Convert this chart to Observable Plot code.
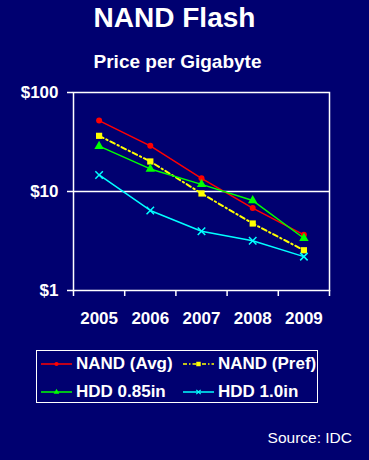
<!DOCTYPE html>
<html>
<head>
<meta charset="utf-8">
<script src="https://cdn.jsdelivr.net/npm/d3@7"></script>
<script src="https://cdn.jsdelivr.net/npm/@observablehq/plot@0.6"></script>
<style>
  html, body { margin: 0; padding: 0; }
  body { width: 369px; height: 460px; background: #000070; position: relative; overflow: hidden;
         font-family: "Liberation Sans", Arial, sans-serif; color: white; }
  .title { position: absolute; left: 0; width: 349px; top: 2px; text-align: center; font-weight: bold; font-size: 28px; }
  .subtitle { position: absolute; left: 0; width: 355px; top: 51px; text-align: center; font-weight: bold; font-size: 19px; }
  #chart { position: absolute; left: 0; top: 80px; }
  .legend { position: absolute; left: 36px; top: 350px; width: 282px; height: 53px; border: 1px solid white; box-sizing: border-box; }
  .li { position: absolute; display: flex; align-items: center; font-weight: bold; font-size: 17px; white-space: nowrap; }
  .li svg { margin-right: 3px; }
  .source { position: absolute; right: 17px; top: 429px; font-size: 15.5px; }
</style>
</head>
<body>
<div class="title">NAND Flash</div>
<div class="subtitle">Price per Gigabyte</div>
<div id="chart"></div>
<div class="legend" id="legend"></div>
<div class="source">Source: IDC</div>
<script>
const years = [2005, 2006, 2007, 2008, 2009];
const seriesNames = ["NAND (Avg)", "NAND (Pref)", "HDD 0.85in", "HDD 1.0in"];
const nandAvg  = [52, 28.9, 13.6, 6.8, 3.65];
const nandPref = [36.5, 20.1, 9.55, 4.75, 2.55];
const hdd085   = [28.7, 16.9, 11.8, 8.1, 3.37];
const hdd10    = [14.7, 6.43, 3.97, 3.18, 2.2];
const yTicks = [1, 10, 100];

const seriesValues = [nandAvg, nandPref, hdd085, hdd10];
const styles = [
  {color: "#ff0000", symbol: "circle", r: 3, dash: null, width: 1.5},
  {color: "#ffff00", symbol: "square", r: 3.5, dash: "5,3,1.5,3", width: 2},
  {color: "#00ff00", symbol: "triangle", r: 3.5, dash: null, width: 1.5},
  {color: "#00ffff", symbol: "times", r: 3.5, dash: null, width: 1.5}
];
const table = seriesNames.flatMap((s, i) => years.map((yr, j) => ({series: s, year: yr, value: seriesValues[i][j]})));
const bounds = [years[0] - 0.5, ...years.map(y => y + 0.5)];

const marks = [
  Plot.ruleY([10], {stroke: "white", strokeWidth: 1.5}),
  Plot.axisY({ticks: yTicks, label: null, tickSize: 6, tickPadding: 9, tickFormat: d => "$" + d, stroke: "white", strokeWidth: 1.5, fill: "white", fontSize: 17, fontWeight: "bold"}),
  Plot.axisX({ticks: bounds, label: null, tickSize: 6, tickFormat: () => "", stroke: "white", strokeWidth: 1.5}),
  Plot.axisX({ticks: years, label: null, tickSize: 0, tickPadding: 21, tickFormat: d => String(d), fill: "white", fontSize: 17, fontWeight: "bold"}),
  Plot.frame({stroke: "white", strokeWidth: 1.5})
];
seriesNames.forEach((s, i) => {
  const st = styles[i];
  const d = table.filter(r => r.series === s);
  marks.push(Plot.line(d, {x: "year", y: "value", stroke: st.color, strokeWidth: st.width, strokeDasharray: st.dash}));
  if (st.symbol === "times") {
    marks.push(Plot.dot(d, {x: "year", y: "value", symbol: "times", r: st.r, stroke: st.color, strokeWidth: 1.5}));
  } else {
    marks.push(Plot.dot(d, {x: "year", y: "value", symbol: st.symbol, r: st.r, fill: st.color, stroke: "none"}));
  }
});

const chart = Plot.plot({
  width: 369, height: 250,
  marginLeft: 73, marginRight: 40, marginTop: 12, marginBottom: 40,
  style: {background: "transparent", color: "white", fontFamily: "'Liberation Sans', Arial, sans-serif"},
  x: {type: "linear", domain: [bounds[0], bounds[bounds.length - 1]], axis: null, label: null},
  y: {type: "log", domain: [1, 100], axis: null, label: null},
  marks
});
document.getElementById("chart").appendChild(chart);

// Legend
const legend = document.getElementById("legend");
const pos = [[4, 13], [146, 13], [4, 41], [146, 41]];
seriesNames.forEach((s, i) => {
  const st = styles[i];
  const item = document.createElement("div");
  item.className = "li";
  item.style.left = pos[i][0] + "px";
  item.style.top = (pos[i][1] - 11) + "px";
  item.style.height = "22px";
  const ns = "http://www.w3.org/2000/svg";
  const svg = document.createElementNS(ns, "svg");
  svg.setAttribute("width", 32); svg.setAttribute("height", 10);
  const ln = document.createElementNS(ns, "line");
  ln.setAttribute("x1", 0); ln.setAttribute("x2", 31); ln.setAttribute("y1", 5); ln.setAttribute("y2", 5);
  ln.setAttribute("stroke", st.color); ln.setAttribute("stroke-width", 1.5);
  if (st.dash) ln.setAttribute("stroke-dasharray", "4,2,1.5,2");
  svg.appendChild(ln);
  const sym = d3.symbol().type({circle: d3.symbolCircle, square: d3.symbolSquare, triangle: d3.symbolTriangle, times: d3.symbolTimes}[st.symbol]).size(st.symbol === "square" ? 20 : 14)();
  const p = document.createElementNS(ns, "path");
  p.setAttribute("d", sym);
  p.setAttribute("transform", "translate(15.5,5)");
  if (st.symbol === "times") { p.setAttribute("fill", "none"); p.setAttribute("stroke", st.color); p.setAttribute("stroke-width", 1.2); }
  else p.setAttribute("fill", st.color);
  svg.appendChild(p);
  item.appendChild(svg);
  const t = document.createElement("span");
  t.textContent = s;
  item.appendChild(t);
  legend.appendChild(item);
});
</script>
</body>
</html>
